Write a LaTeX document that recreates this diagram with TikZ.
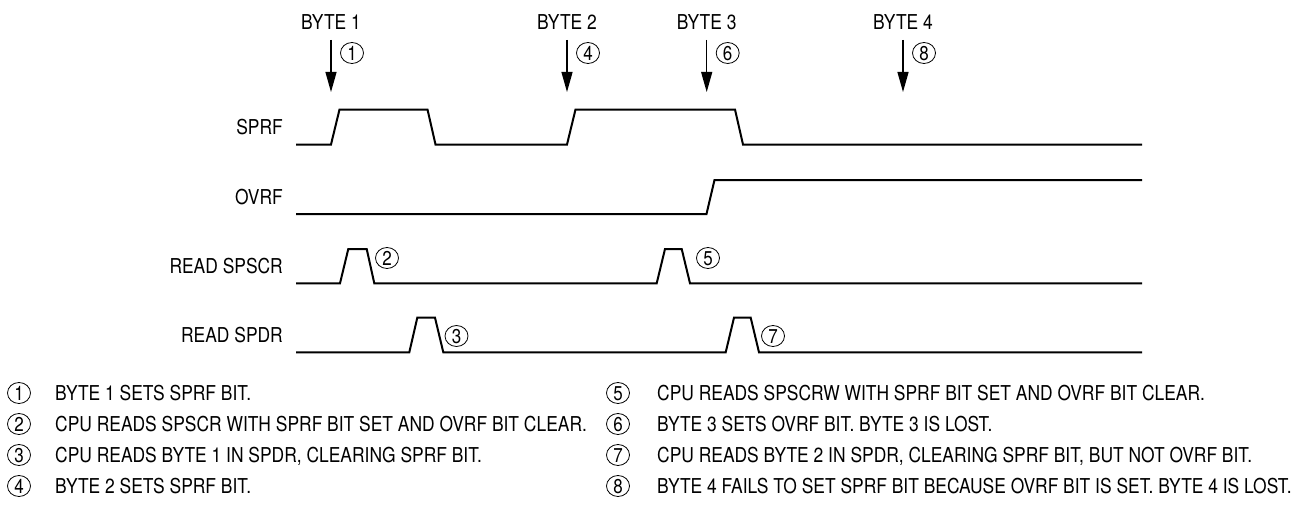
\documentclass[tikz,border=0pt]{standalone}
\usepackage{fontspec}
\setmainfont{TeX Gyre Heros}[FakeStretch=0.85]
\usetikzlibrary{arrows.meta,shapes.geometric}
\begin{document}
\begin{tikzpicture}[x=1pt,y=-1pt,
  txt/.style={font=\fontsize{20.5}{24}\selectfont, inner sep=0pt, text height=14.7pt, text depth=0pt},
  num/.style={ellipse, draw, line width=0.8pt, minimum width=23pt, minimum height=21pt, inner sep=0pt,
              font=\fontsize{20}{22}\selectfont, text height=14.2pt, text depth=0pt},
  wave/.style={line width=2pt, line join=miter},
  marker/.style={line width=1.2pt, -{Triangle[length=20pt,width=11pt]}}]
\useasboundingbox (0,0) rectangle (1312,511);

% byte markers
\foreach \n/\x/\c in {1/331/1, 2/567/4, 3/706.7/6, 4/903/8}{
  \node[txt] (byte\n) at (\x,22) {BYTE \n};
  \coordinate (mtop\n) at (\x,40);
  \coordinate (mtip\n) at (\x,92);
  \draw[marker] (mtop\n) -- (mtip\n);
  \node[num] (c\c) at (\x+21,53) {\c};
}

% signal labels
\node[txt, anchor=east] (lsprf) at (283,127) {SPRF};
\node[txt, anchor=east] (lovrf) at (283,197) {OVRF};
\node[txt, anchor=east] (lscr) at (283,266) {READ SPSCR};
\node[txt, anchor=east] (ldr) at (283,335) {READ SPDR};

% waveforms
\draw[wave] (296,144.5) -- (331,144.5) -- (339.5,109.5) -- (427.5,109.5) -- (435.5,144.5)
  -- (567,144.5) -- (575.5,109.5) -- (735,109.5) -- (743,144.5) -- (1142,144.5);
\draw[wave] (296,214) -- (706.5,214) -- (714.5,180) -- (1142,180);
\draw[wave] (296,283.3) -- (340,283.3) -- (348.3,249) -- (366.7,249) -- (374.3,283.3)
  -- (656.7,283.3) -- (665,249) -- (681.7,249) -- (690,283.3) -- (1142,283.3);
\draw[wave] (296,352.3) -- (409.3,352.3) -- (417.3,317.7) -- (435,317.7) -- (443.3,352.3)
  -- (725.7,352.3) -- (734,317.7) -- (750.7,317.7) -- (759,352.3) -- (1142,352.3);

% pulse annotations
\node[num] (c2) at (387,258) {2};
\node[num] (c5) at (708,258) {5};
\node[num] (c3) at (456.5,336) {3};
\node[num] (c7) at (773,336) {7};

% legend
\foreach \n/\y/\t in {1/393/{BYTE 1 SETS SPRF BIT.},
                      2/424/{CPU READS SPSCR WITH SPRF BIT SET AND OVRF BIT CLEAR.},
                      3/455/{CPU READS BYTE 1 IN SPDR, CLEARING SPRF BIT.},
                      4/486/{BYTE 2 SETS SPRF BIT.}}{
  \node[num] (lc\n) at (19,\y) {\n};
  \node[txt, anchor=west] (lt\n) at (55,\y) {\t};
}
\foreach \n/\y/\t in {5/393/{CPU READS SPSCRW WITH SPRF BIT SET AND OVRF BIT CLEAR.},
                      6/424/{BYTE 3 SETS OVRF BIT. BYTE 3 IS LOST.},
                      7/455/{CPU READS BYTE 2 IN SPDR, CLEARING SPRF BIT, BUT NOT OVRF BIT.},
                      8/486/{BYTE 4 FAILS TO SET SPRF BIT BECAUSE OVRF BIT IS SET. BYTE 4 IS LOST.}}{
  \node[num] (lc\n) at (618,\y) {\n};
  \node[txt, anchor=west] (lt\n) at (657,\y) {\t};
}
\end{tikzpicture}
\end{document}
